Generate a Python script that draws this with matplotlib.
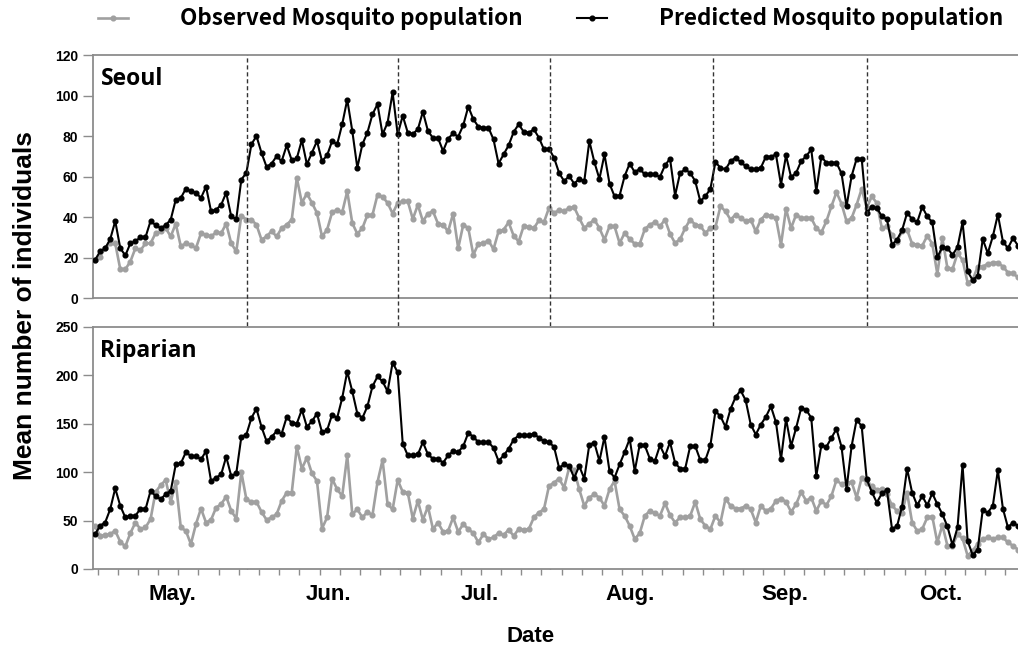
"""
plot.py
Observed vs predicted daily mosquito population, Seoul and riparian sites
(May - Oct), two stacked panels sharing the date axis.
"""

import numpy as np
import matplotlib.pyplot as plt
import matplotlib.ticker as mticker
from matplotlib.lines import Line2D


# ──────────────────────────────────────────────────────────────────────────────
# DATA  (daily values, day 0 = start of May)
# ──────────────────────────────────────────────────────────────────────────────

seoul_pred = [
    18.8, 23, 24.6, 29, 38, 24.6, 21, 27, 28, 30,
    30, 38, 36, 34.5, 36, 38.7, 48.6, 49.4, 54, 52.7,
    52, 49.4, 55, 42.8, 43.6, 46, 52, 40.3, 39, 58.5,
    61.8, 75.9, 80, 71.7, 64.8, 66.4, 70, 67.6, 75.4, 68,
    69, 78, 66, 71.7, 77.5, 67.6, 70.4, 77.5, 75.9, 85.8,
    98, 82.5, 64.3, 75.9, 81.7, 90.7, 95.7, 80.8, 86.6, 101.5,
    80.8, 90, 81.7,
    81, 83.3, 92, 82.5, 79, 79, 72.6, 78.7, 81.3, 79.7,
    85.3, 94.5, 88.3, 84.6, 84.1, 84.1, 78.3, 66.4, 70.9, 75.4,
    82, 85.8, 82, 81.7, 83.3, 79.2, 73.4, 73.7, 69.3, 61.8,
    57.7, 60.2, 56.5, 58.8, 57.7, 77.5, 67.1, 58.8, 70.9, 56.5,
    50.2, 50.6, 60.2, 66.4, 62.1, 63.8, 61, 61, 61, 59.8,
    65.5, 68.8, 50.6, 61.8, 63.5, 61.8, 57.7, 47.8, 50.2, 53.9,
    67.1, 64.3,
    63.5, 67.6, 69.3, 67.1, 65.1, 63.5, 63.5, 64.3, 69.8, 69.8,
    70.9, 56, 70.4, 59.7, 61.8, 67.6, 70, 73.4, 52.7, 69.8,
    66.8, 66.8, 66.8, 61.5, 45.3, 60.2, 68.8, 68.8,
    42, 45, 44.5, 40.3, 39, 26.3, 28.8, 33.4, 42, 39,
    37.4, 45, 40.3, 37.4, 20.2, 25.1, 24.6, 21.3, 25.1, 37.4,
    13.1, 8.9, 10.9, 29.1, 22.1, 30.4, 41.2, 27.9, 24.6, 29.6,
    25.8,
]

seoul_obs = [
    18.8, 20.5, 24.6, 27, 27, 14.2, 14.2, 18, 24.6, 23.5,
    27, 27, 32, 33, 34.5, 30.4, 36.7, 25.5, 27, 26.3,
    24.6, 32, 31.2, 30.4, 32.4, 32, 36.7, 27, 23, 40.7,
    38.7, 38.7, 36.2, 28.8, 30.4, 33, 30.4, 34.5, 36.2, 38.7,
    59.3, 47, 51.6, 47, 42, 30.4, 33.7, 42.3, 43.6, 42.3,
    52.7, 37, 31.7, 34.5, 41, 41, 51, 50, 47, 41.7,
    47, 47.8, 47.8,
    39, 46, 37.9, 41.7, 42.8, 36.7, 36.2, 32.9, 41.7, 24.6,
    36.2, 34.5, 21.3, 26.8, 27.1, 28.4, 24.1, 32.9, 33.7, 37.4,
    30.7, 27.9, 35.7, 35, 34.5, 38.3, 37.4, 44.5, 42, 43.3,
    42.8, 44.5, 44.8, 39.5, 34.5, 36.7, 38.7, 34.5, 28.8, 35.4,
    35.4, 27.1, 32.1, 29.1, 26.8, 26.8, 34, 36.2, 37.4, 35.4,
    38.7, 31.7, 27.1, 29.1, 34.5, 38.7, 36.2, 35.7, 32.1, 34.5,
    35, 45.3,
    42.8, 38.7, 41.2, 39.5, 37.9, 38.7, 32.9, 38.7, 41.2, 40.3,
    39.5, 26.3, 44, 34.5, 41.2, 39.5, 39.5, 39.5, 34.5, 32.4,
    37.9, 45.3, 52.2, 46.6, 37.9, 39.5, 46.1, 53.9, 44.5, 50.2,
    46.9, 34.5, 35.4, 31.2, 27.9, 32.9, 33.7, 26.8, 26.3, 25.8,
    30.7, 26.8, 11.9, 29.6, 14.7, 14.2, 22.1, 18.8, 7.6, 8.9,
    15.5, 15.5, 16.9, 17.5, 17.5, 15.5, 12.6, 12.2, 10.2,
]

riparian_pred = [
    36, 44.6, 48, 61.7, 83.3, 65.2, 53.2, 54.9, 54.9, 62.4,
    61.7, 80.6, 75.4, 72, 77.2, 80.6, 108, 109, 120.7, 116.6,
    116.6, 113.2, 121.7, 90.9, 94.3, 97.7, 115.9, 96, 98.8, 136.5,
    138.9, 156, 165.6, 146.8, 132, 136.5, 142.3, 139.9, 157, 150.9,
    150.2, 164.6, 146.8, 152.6, 160.5, 141.3, 143.3, 159.5, 156, 176.6,
    204, 183.5, 160.5, 156, 168, 188.6, 198.9, 193.8, 183.5, 213.3,
    203,
    129.6, 117.3, 117.3, 118.3, 131, 118.3, 113.9, 113.9, 109.7, 117.3,
    121.7, 120.7, 126.9, 140.6, 136.5, 131, 131, 131, 125.2, 111.5,
    117.3, 124.1, 133.7, 137.9, 137.9, 137.9, 139.9, 135.5, 132, 131,
    126.2, 104.6, 108, 106.3, 94.3, 106.3, 93.3, 128.6, 130.3, 111.5,
    136.5, 101.2, 94.3, 108, 120.7, 134.4, 101.2, 128.6, 127.6, 113.9,
    111.5, 127.6, 116.6, 131, 109.7, 103.6, 103.6, 126.9, 126.9, 112.5,
    112.5, 127.6, 162.9, 157.8,
    146.8, 165.3, 177.6, 184.5, 174.2, 149.2, 138.9, 149.2, 157.1, 168,
    151.6, 113.2, 155, 126.9, 145.7, 166.3, 164.6, 156, 96, 127.6,
    126.2, 135.5, 144.7, 126.2, 83, 126.9, 154.3, 147.5, 92.6, 79.6,
    68.6,
    78, 81.6, 41.8, 43.9, 64.5, 103.6, 78.9, 65.8, 75.4, 65.8,
    78.2, 66.9, 56.6, 43.9, 24.7, 42.9, 107.3, 29.1, 14.4, 19.9,
    61, 58.3, 65.2, 102.2, 62.4, 42.9, 48, 44.6,
]

riparian_obs = [
    44.6, 34.3, 35, 36, 39.4, 28.1, 23.3, 37, 48, 41.2,
    42.9, 51.4, 79.6, 86.4, 91.9, 69.3, 89.8, 42.9, 39.4, 25.7,
    46.3, 62.4, 48, 50.8, 63.4, 66.9, 74.8, 60, 52.1, 100.1,
    72, 69.3, 69.3, 59, 50.8, 53.2, 56.6, 70.3, 78.9, 78.9,
    126.2, 103.6, 114.9, 98.8, 90.9, 41.8, 53.2, 93.3, 82.3, 75.4,
    117.3, 56.6, 61.7, 53.2, 59, 55.6, 89.8, 112.5, 66.9, 61.7,
    91.9, 79.6, 78.9,
    52.1, 70.3, 50.8, 64.5, 41.2, 48, 38.4, 39.4, 53.2, 38.4,
    46.3, 41.2, 37, 27.4, 36, 30.9, 32.6, 37, 35, 40.5,
    34.3, 41.2, 40.5, 41.2, 53.2, 58.3, 61.7, 85.7, 89.2, 93.3,
    84, 104.6, 102.2, 82.3, 65.2, 73.7, 77.2, 73.7, 65.2, 82.3,
    90.9, 61.7, 54.9, 44.6, 30.9, 37, 54.9, 60, 57.6, 54.9,
    67.9, 55.6, 48, 53.2, 53.2, 54.9, 69.3, 51.4, 44.6, 41.2,
    54.9, 48,
    72.7, 65.2, 62.4, 62.4, 65.2, 61.7, 48, 65.2, 60, 62.4,
    70.3, 72.7, 69.3, 59, 66.9, 79.6, 70.3, 73.7, 60, 70.3,
    65.8, 75.4, 91.9, 87.4, 89.2, 89.8, 73.7, 94.3, 89.2, 85.7,
    81.6, 82.3, 77.2, 65.8, 60, 58.3, 78.9, 48, 39.4, 41.2,
    53.2, 54.2, 27.4, 45.3, 24, 24, 36, 31.6, 13.7, 18.9,
    25.7, 30.9, 32.6, 30.9, 32.6, 32.6, 27.4, 24, 19.9,
]

month_labels  = ["May.", "Jun.", "Jul.", "Aug.", "Sep.", "Oct."]
month_centers = [15.3, 46.2, 76.3, 106.1, 136.8, 167.6]   # day index
month_bounds  = [30.1, 60.1, 90.2, 122.6, 153.1]          # dashed lines

panels = [
    ("Seoul",    seoul_obs,    seoul_pred,    120, 20),
    ("Riparian", riparian_obs, riparian_pred, 250, 50),
]


# ──────────────────────────────────────────────────────────────────────────────
# STYLE
# ──────────────────────────────────────────────────────────────────────────────

plt.rcParams.update({
    "font.family":     ["Liberation Sans", "DejaVu Sans"],
    "font.weight":     "bold",
    "axes.linewidth":  1.3,
    "axes.edgecolor":  "#8c8c8c",
})

OBS_COLOR  = "#a0a0a0"
PRED_COLOR = "#000000"
SPINE_GREY = "#8c8c8c"


# ──────────────────────────────────────────────────────────────────────────────
# FIGURE
# ──────────────────────────────────────────────────────────────────────────────

fig = plt.figure(figsize=(10.18, 6.51), dpi=100)
ax_top = fig.add_axes([0.0914, 0.5422, 0.9126, 0.3733])
ax_bot = fig.add_axes([0.0914, 0.1260, 0.9126, 0.3717])

for ax, (name, obs, pred, ymax, ystep) in zip([ax_top, ax_bot], panels):
    ax.plot(np.arange(len(obs)), obs, "-o", color=OBS_COLOR,
            linewidth=1.9, markersize=3.4, zorder=3)
    ax.plot(np.arange(len(pred)), pred, "-o", color=PRED_COLOR,
            linewidth=1.5, markersize=3.4, zorder=4)

    ax.set_xlim(-0.4, 183.8)
    ax.set_ylim(0, ymax)
    ax.yaxis.set_major_locator(mticker.MultipleLocator(ystep))
    ax.tick_params(axis="y", direction="out", length=7, width=1,
                   color=SPINE_GREY, pad=3.5, labelsize=10)
    ax.spines["right"].set_visible(False)

    ax.text(0.008, 0.95, name, transform=ax.transAxes,
            ha="left", va="top", fontsize=16.5, fontweight="bold",
            family=["Open Sans", "DejaVu Sans"])

# top panel: no x ticks
ax_top.tick_params(axis="x", bottom=False, labelbottom=False)

# bottom panel: month names centred, small ticks every 4 days
ax_bot.set_xticks(month_centers)
ax_bot.set_xticklabels(month_labels, fontsize=16, fontweight="bold")
ax_bot.tick_params(axis="x", which="major", length=0, pad=11)
ax_bot.xaxis.set_minor_locator(mticker.MultipleLocator(4, offset=0.5))
ax_bot.tick_params(axis="x", which="minor", direction="out", length=4,
                   width=1, color=SPINE_GREY)

# ── Month boundaries, one dashed line running through both panels ─────────
top_pos = ax_top.get_position()
bot_pos = ax_bot.get_position()
ymin_ext = (bot_pos.y0 - top_pos.y0) / top_pos.height
for xb in month_bounds:
    ax_top.axvline(xb, ymin=ymin_ext, ymax=1, color="#333333",
                   linestyle=(0, (3, 2)), linewidth=1.0,
                   clip_on=False, zorder=5)

# ── Axis titles ───────────────────────────────────────────────────────────
fig.text(0.0245, 0.531, "Mean number of individuals", rotation=90,
         ha="center", va="center", fontsize=19, fontweight="bold")
fig.text(0.521, 0.023, "Date", ha="center", va="center",
         fontsize=16, fontweight="bold")

# ── Legend across the top ─────────────────────────────────────────────────
handles = [
    Line2D([], [], color=OBS_COLOR, linewidth=1.9, marker="o",
           markersize=3.4, label="Observed Mosquito population"),
    Line2D([], [], color=PRED_COLOR, linewidth=1.5, marker="o",
           markersize=3.4, label="Predicted Mosquito population"),
]
fig.legend(handles=handles, loc="center left", bbox_to_anchor=(0.0963, 0.971),
           ncol=2, frameon=False, borderpad=0, borderaxespad=0,
           handlelength=1.33, handletextpad=2.3, columnspacing=2.45,
           prop={"family": ["Noto Sans CJK KR", "DejaVu Sans"],
                 "weight": "bold", "size": 16.2})

fig.savefig("out.png", dpi=100)
